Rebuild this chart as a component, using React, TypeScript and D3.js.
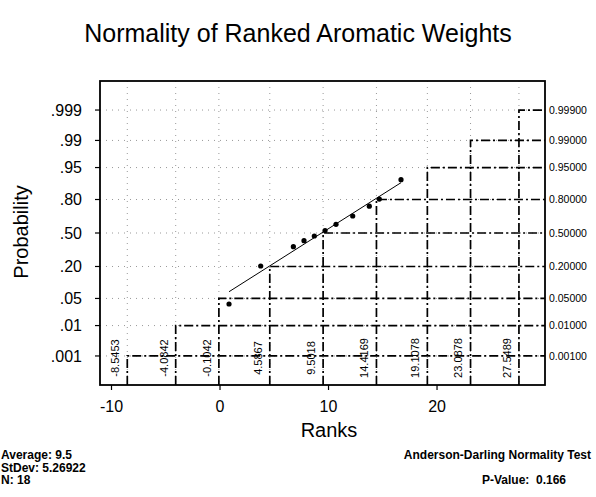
import React from 'react';
import * as d3 from 'd3';

const probLevels = [0.001, 0.01, 0.05, 0.2, 0.5, 0.8, 0.95, 0.99, 0.999];
const leftTickLabels = ['.001', '.01', '.05', '.20', '.50', '.80', '.95', '.99', '.999'];
const rightTickLabels = ['0.00100', '0.01000', '0.05000', '0.20000', '0.50000', '0.80000', '0.95000', '0.99000', '0.99900'];
const quantiles = [-8.5453, -4.0842, -0.1042, 4.5867, 9.5018, 14.4169, 19.1078, 23.0878, 27.5489];
const quantileLabels = ['-8.5453', '-4.0842', '-0.1042', '4.5867', '9.5018', '14.4169', '19.1078', '23.0878', '27.5489'];
const xTicks = [-10, 0, 10, 20];
const pointRanks = [0.83, 3.75, 6.76, 7.74, 8.69, 9.68, 10.69, 12.23, 13.76, 14.68, 16.68];
const pointProbs = [0.0372, 0.2035, 0.3654, 0.4234, 0.47, 0.525, 0.5866, 0.6654, 0.7496, 0.8034, 0.9097];
const fitRanks = [0.83, 16.68];
const fitProbs = [0.07, 0.897];
const statsLeft = ['Average: 9.5', 'StDev: 5.26922', 'N: 18'];
const testTitle = 'Anderson-Darling Normality Test';
const pValueText = 'P-Value:  0.166';

// inverse standard normal CDF (Acklam)
function probit(p: number): number {
  const a = [-3.969683028665376e1, 2.209460984245205e2, -2.759285104469687e2, 1.38357751867269e2, -3.066479806614716e1, 2.506628277459239];
  const b = [-5.447609879822406e1, 1.615858368580409e2, -1.556989798598866e2, 6.680131188771972e1, -1.328068155288572e1];
  const c = [-7.784894002430293e-3, -3.223964580411365e-1, -2.400758277161838, -2.549732539343734, 4.374664141464968, 2.938163982698783];
  const d = [7.784695709041462e-3, 3.224671290700398e-1, 2.445134137142996, 3.754408661907416];
  const pl = 0.02425;
  let q, r;
  if (p < pl) {
    q = Math.sqrt(-2 * Math.log(p));
    return (((((c[0] * q + c[1]) * q + c[2]) * q + c[3]) * q + c[4]) * q + c[5]) / ((((d[0] * q + d[1]) * q + d[2]) * q + d[3]) * q + 1);
  } else if (p <= 1 - pl) {
    q = p - 0.5;
    r = q * q;
    return (((((a[0] * r + a[1]) * r + a[2]) * r + a[3]) * r + a[4]) * r + a[5]) * q / (((((b[0] * r + b[1]) * r + b[2]) * r + b[3]) * r + b[4]) * r + 1);
  } else {
    q = Math.sqrt(-2 * Math.log(1 - p));
    return -(((((c[0] * q + c[1]) * q + c[2]) * q + c[3]) * q + c[4]) * q + c[5]) / ((((d[0] * q + d[1]) * q + d[2]) * q + d[3]) * q + 1);
  }
}

const W = 596, H = 497;
const L = 100, R = 545, T = 81, B = 385;
const FONT = '"Liberation Sans", Arial, Helvetica, sans-serif';

export default function App() {
  const x = d3.scaleLinear().domain([-11.06, 29.95]).range([L, R]);
  const yz = d3.scaleLinear().domain([-3.82, 3.82]).range([B, T]);
  const y = (p: number) => yz(probit(p));
  const fitLine = d3.line<number>().x((d) => x(d)).y((_, i) => y(fitProbs[i]));
  const dashDot = '9,3,2,3';

  return (
    <svg width={W} height={H} style={{ position: 'absolute', left: 0, top: 0, background: '#fff' }} fontFamily={FONT}>
      <rect x={0} y={0} width={W} height={H} fill="#fff" />
      <text x={298} y={42} textAnchor="middle" fontSize={25}>Normality of Ranked Aromatic Weights</text>

      {/* dotted grid */}
      {probLevels.map((p, i) => (
        <line key={'gh' + i} x1={L} x2={R} y1={y(p)} y2={y(p)} stroke="#999" strokeWidth={1} strokeDasharray="1,5" />
      ))}
      {quantiles.map((q, i) => (
        <line key={'gv' + i} x1={x(q)} x2={x(q)} y1={T} y2={B} stroke="#999" strokeWidth={1} strokeDasharray="1,5" />
      ))}

      {/* step lines */}
      {quantiles.map((q, i) => (
        <path key={'st' + i} d={`M${x(q)},${B}V${y(probLevels[i])}H${R}`} fill="none" stroke="#000" strokeWidth={1.7} strokeDasharray={dashDot} />
      ))}

      {/* quantile labels */}
      {quantiles.map((q, i) => (
        <text key={'ql' + i} transform={`translate(${x(q) - 12},358) rotate(-90)`} textAnchor="middle" dy="0.35em" fontSize={11}>{quantileLabels[i]}</text>
      ))}

      {/* fit line and points */}
      <path d={fitLine(fitRanks) || ''} fill="none" stroke="#000" strokeWidth={1} />
      {pointRanks.map((r, i) => (
        <circle key={'pt' + i} cx={x(r)} cy={y(pointProbs[i])} r={2.6} fill="#000" />
      ))}

      {/* frame */}
      <rect x={L} y={T} width={R - L} height={B - T} fill="none" stroke="#000" strokeWidth={1.8} />

      {/* left axis */}
      {probLevels.map((p, i) => (
        <g key={'ly' + i}>
          <line x1={L - 5} x2={L} y1={y(p)} y2={y(p)} stroke="#000" strokeWidth={1.2} />
          <text x={82} y={y(p)} dy="0.36em" textAnchor="end" fontSize={16}>{leftTickLabels[i]}</text>
          <text x={549} y={y(p)} dy="0.36em" textAnchor="start" fontSize={10.5}>{rightTickLabels[i]}</text>
        </g>
      ))}

      {/* bottom axis */}
      {xTicks.map((t) => (
        <g key={'xt' + t}>
          <line x1={x(t)} x2={x(t)} y1={B} y2={B + 5} stroke="#000" strokeWidth={1.2} />
          <text x={x(t)} y={412} textAnchor="middle" fontSize={16}>{t}</text>
        </g>
      ))}

      <text x={329} y={437} textAnchor="middle" fontSize={20}>Ranks</text>
      <text transform="translate(28,232) rotate(-90)" textAnchor="middle" fontSize={20}>Probability</text>

      {statsLeft.map((s, i) => (
        <text key={'sl' + i} x={1} y={459 + i * 12.5} fontSize={12} fontWeight="bold">{s}</text>
      ))}
      <text x={591} y={459} textAnchor="end" fontSize={12} fontWeight="bold">{testTitle}</text>
      <text x={566} y={484} textAnchor="end" fontSize={12} fontWeight="bold" style={{ whiteSpace: 'pre' }}>{pValueText}</text>
    </svg>
  );
}
